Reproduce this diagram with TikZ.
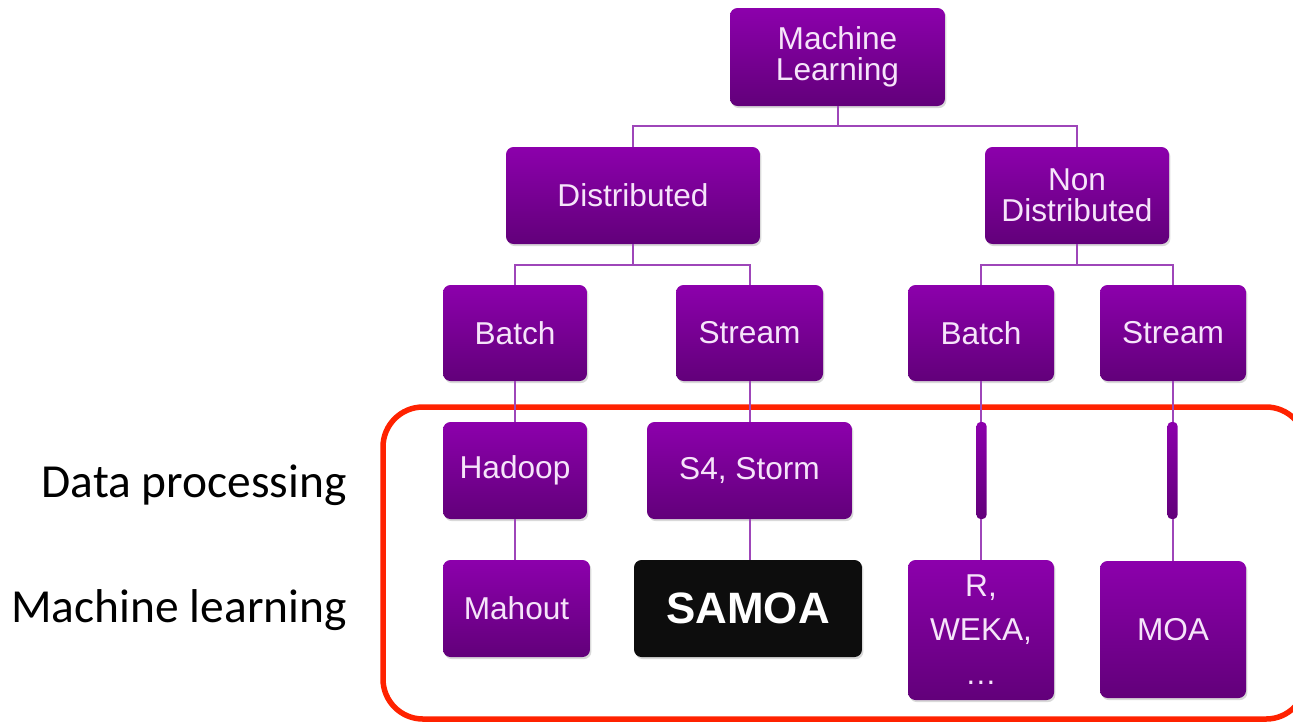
\documentclass[tikz,border=0pt]{standalone}
\usepackage{fontspec}
\setmainfont{Liberation Sans}
\newfontfamily\calib{Carlito}
\usetikzlibrary{shadows}
\definecolor{ptop}{RGB}{140,0,172}
\definecolor{pbot}{RGB}{98,0,122}
\definecolor{plink}{RGB}{158,70,185}
\definecolor{ptext}{RGB}{246,228,250}
\definecolor{redframe}{RGB}{255,34,0}
\definecolor{samoabg}{RGB}{13,13,13}
\begin{document}
\begin{tikzpicture}[x=0.02cm,y=-0.02cm,
  pbox/.style={draw=none, top color=ptop, bottom color=pbot, rounded corners=0.15cm,
    text=ptext, font=\fontsize{18}{17.6}\selectfont, align=center, inner sep=0pt,
    drop shadow={opacity=0.3, shadow xshift=0.8pt, shadow yshift=-1.2pt}},
  blackbox/.style={draw=none, fill=samoabg, rounded corners=0.15cm,
    text=white, font=\fontsize{25}{28}\selectfont\bfseries, inner sep=0pt,
    drop shadow={opacity=0.3, shadow xshift=0.8pt, shadow yshift=-1.2pt}},
  pbar/.style={draw=none, top color=ptop, bottom color=pbot, rounded corners=0.08cm,
    minimum width=0.2cm, minimum height=1.94cm, inner sep=0pt},
  link/.style={draw=plink, line width=0.04cm},
  sidelabel/.style={font=\calib\fontsize{27}{30}\selectfont, anchor=east, inner sep=0pt}
]
\useasboundingbox (0,0) rectangle (1293,725);

% red frame
\draw[redframe, line width=0.11cm, rounded corners=0.8cm] (383,407) rectangle (1306,719);

% nodes
\node[pbox, minimum width=4.3cm, minimum height=1.96cm] (ml) at (837.5,57) {\raisebox{-4.5pt}{\parbox{4cm}{\centering Machine\\Learning}}};
\node[pbox, minimum width=5.08cm, minimum height=1.94cm] (dist) at (633,195.5) {Distributed};
\node[pbox, minimum width=3.68cm, minimum height=1.94cm] (nd) at (1077,195.5) {Non\\Distributed};

\node[pbox, minimum width=2.88cm, minimum height=1.92cm] (db) at (515,333) {Batch};
\node[pbox, minimum width=2.94cm, minimum height=1.92cm] (ds) at (749.5,333) {Stream};
\node[pbox, minimum width=2.92cm, minimum height=1.92cm] (nb) at (981,333) {Batch};
\node[pbox, minimum width=2.92cm, minimum height=1.92cm] (ns) at (1173,333) {Stream};

\node[pbox, minimum width=2.88cm, minimum height=1.94cm] (hadoop) at (515,470.5) {Hadoop};
\node[pbox, minimum width=4.1cm, minimum height=1.94cm] (storm) at (749.5,470.5) {S4, Storm};
\node[pbar] (bar1) at (981.5,470.5) {};
\node[pbar] (bar2) at (1172.5,470.5) {};

\node[pbox, minimum width=2.94cm, minimum height=1.94cm] (mahout) at (516.5,608.5) {Mahout};
\node[blackbox, minimum width=4.56cm, minimum height=1.94cm] (samoa) at (748,608.5) {SAMOA};
\node[pbox, minimum width=2.92cm, minimum height=2.8cm, font=\fontsize{18}{25}\selectfont] (weka) at (981,630) {R,\\WEKA,\\…};
\node[pbox, minimum width=2.92cm, minimum height=2.74cm] (moa) at (1173,629.5) {MOA};

% connectors
\draw[link] (ml.south) -- ++(0,20) coordinate (mlj) -| (dist.north);
\draw[link] (mlj) -| (nd.north);
\draw[link] (dist.south) -- ++(0,21) coordinate (dj) -| (db.north);
\draw[link] (dj) -| (ds.north);
\draw[link] (nd.south) -- ++(0,21) coordinate (nj) -| (nb.north);
\draw[link] (nj) -| (ns.north);

\draw[link] (db.south) -- (hadoop.north);
\draw[link] (hadoop.south) -- (mahout.north -| hadoop.south);
\draw[link] (ds.south) -- (storm.north);
\draw[link] (storm.south) -- (samoa.north -| storm.south);
\draw[link] (nb.south) -- (bar1.north -| nb.south);
\draw[link] (bar1.south -| weka.north) -- (weka.north);
\draw[link] (ns.south) -- (bar2.north -| ns.south);
\draw[link] (bar2.south -| moa.north) -- (moa.north);

% side labels
\node[sidelabel] (lbl1) at (347,485) {Data processing};
\node[sidelabel] (lbl2) at (347,610) {Machine learning};
\end{tikzpicture}
\end{document}
